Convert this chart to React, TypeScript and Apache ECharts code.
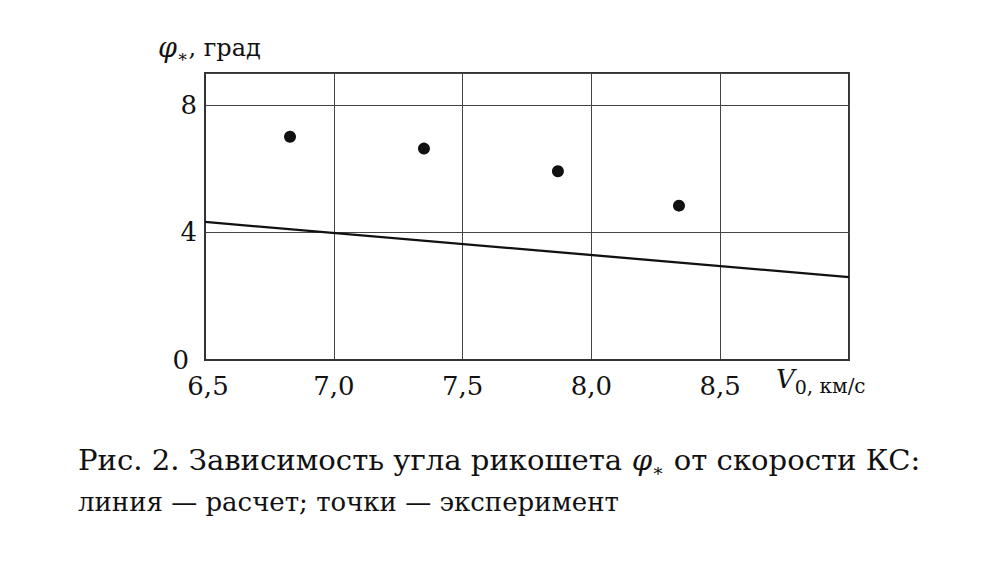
import React, { useEffect, useRef } from "react";
import * as echarts from "echarts";

const calcLine: [number, number][] = [
  [6.5, 4.33],
  [9.0, 2.6],
];
const expPoints: [number, number][] = [
  [6.83, 7.0],
  [7.35, 6.63],
  [7.87, 5.92],
  [8.34, 4.84],
];
const xTicks = { min: 6.5, max: 9.0, interval: 0.5 };
const yTicks = { min: 0, max: 9, interval: 4 };

const FONT = "DejaVu Serif";

export default function App() {
  const ref = useRef<HTMLDivElement>(null);
  useEffect(() => {
    if (!ref.current) return;
    const chart = echarts.init(ref.current, null, { renderer: "svg" });
    chart.setOption({
      animation: false,
      backgroundColor: "#fff",
      textStyle: { fontFamily: FONT, color: "#111" },
      grid: {
        left: 205,
        right: 151,
        top: 73,
        bottom: 218,
        show: true,
        borderColor: "#333",
        borderWidth: 2,
        backgroundColor: "transparent",
      },
      xAxis: {
        type: "value",
        min: xTicks.min,
        max: xTicks.max,
        interval: xTicks.interval,
        axisLine: { show: true, lineStyle: { color: "#333", width: 2 } },
        axisTick: { show: false },
        splitLine: { show: true, lineStyle: { color: "#444", width: 1 } },
        axisLabel: {
          showMaxLabel: false,
          margin: 15,
          fontSize: 26,
          lineHeight: 22,
          fontFamily: FONT,
          color: "#111",
          formatter: (v: number) =>
            v >= 9 ? "" : v === xTicks.min ? "{f|6,5}" : v.toFixed(1).replace(".", ","),
          rich: {
            f: { fontFamily: FONT, fontSize: 26, lineHeight: 22, color: "#111", padding: [0, 0, 0, 6] },
          },
        },
      },
      yAxis: {
        type: "value",
        min: yTicks.min,
        max: yTicks.max,
        interval: yTicks.interval,
        axisLine: { show: true, lineStyle: { color: "#333", width: 2 } },
        axisTick: { show: false },
        splitLine: { show: true, lineStyle: { color: "#444", width: 1 } },
        axisLabel: {
          margin: 8,
          fontSize: 26,
          lineHeight: 18,
          fontFamily: FONT,
          color: "#111",
          formatter: (v: number) => (v === 0 ? "{z|0}" : v % 4 === 0 ? String(v) : ""),
          rich: {
            z: { fontFamily: FONT, fontSize: 26, lineHeight: 18, color: "#111", padding: [0, 8, 0, 0] },
          },
        },
      },
      series: [
        {
          type: "line",
          data: calcLine,
          showSymbol: false,
          symbol: "none",
          lineStyle: { color: "#111", width: 2.3 },
        },
        {
          type: "scatter",
          data: expPoints,
          symbol: "circle",
          symbolSize: 12,
          itemStyle: { color: "#111", opacity: 1 },
        },
      ],
      graphic: [
        {
          type: "text",
          left: 158,
          top: 34,
          style: {
            text: "{i|φ}{s|∗}{n|, град}",
            rich: {
              i: { fontFamily: FONT, fontStyle: "italic", fontSize: 27, lineHeight: 34, fill: "#111" },
              s: { fontFamily: FONT, fontSize: 17, lineHeight: 16, verticalAlign: "bottom", fill: "#111" },
              n: { fontFamily: FONT, fontSize: 24, lineHeight: 34, fill: "#111" },
            },
          },
        },
        {
          type: "text",
          left: 776,
          top: 366,
          style: {
            text: "{i|V}{s|0}{n|, км/с}",
            rich: {
              i: { fontFamily: FONT, fontStyle: "italic", fontSize: 26, lineHeight: 34, fill: "#111" },
              s: { fontFamily: FONT, fontSize: 19, lineHeight: 16, verticalAlign: "bottom", fill: "#111" },
              n: { fontFamily: FONT, fontSize: 20, lineHeight: 31, verticalAlign: "bottom", fill: "#111" },
            },
          },
        },
        {
          type: "text",
          x: 78,
          y: 443,
          scaleX: 1.078,
          style: {
            text: "{n|Рис. 2. Зависимость угла рикошета }{i|φ}{s|∗}{n| от скорости КС:}",
            rich: {
              i: { fontFamily: FONT, fontStyle: "italic", fontSize: 27, lineHeight: 36, fill: "#111" },
              s: { fontFamily: FONT, fontSize: 17, lineHeight: 18, verticalAlign: "bottom", fill: "#111" },
              n: { fontFamily: FONT, fontSize: 27, lineHeight: 36, fill: "#111" },
            },
          },
        },
        {
          type: "text",
          x: 78,
          y: 489,
          style: {
            text: "линия — расчет; точки — эксперимент",
            fontFamily: FONT,
            fontSize: 26,
            fill: "#111",
          },
        },
      ],
    });
    return () => chart.dispose();
  }, []);
  return <div ref={ref} style={{ width: 1000, height: 578, position: "absolute", left: 0, top: 0 }} />;
}
